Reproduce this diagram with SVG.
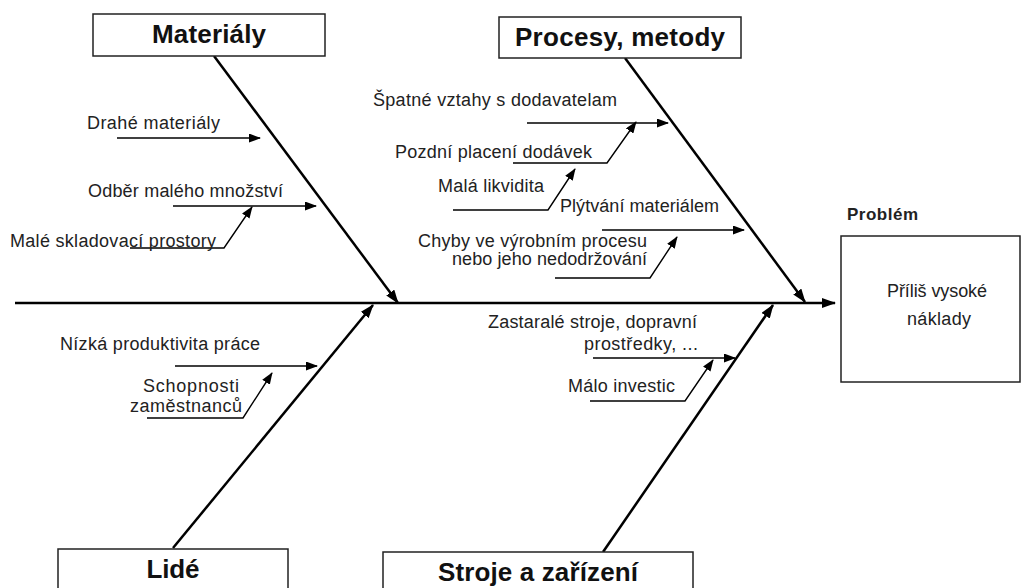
<svg xmlns="http://www.w3.org/2000/svg" width="1026" height="588" viewBox="0 0 1026 588">
<defs>
<marker id="ah" markerUnits="userSpaceOnUse" markerWidth="14" markerHeight="10" refX="13" refY="5" orient="auto"><path d="M0,0 L14,5 L0,10 Z" fill="#000"/></marker>
<marker id="as" markerUnits="userSpaceOnUse" markerWidth="12" markerHeight="9" refX="11" refY="4.5" orient="auto"><path d="M0,0 L12,4.5 L0,9 Z" fill="#000"/></marker>
<style>
.box{fill:#fff;stroke:#222;stroke-width:1.5}
.title{font-family:"Liberation Sans",Arial,sans-serif;font-weight:bold;font-size:26px;fill:#111;text-anchor:middle}
.lbl{font-family:"Liberation Sans",Arial,sans-serif;font-size:18px;fill:#222}
.main{stroke:#000;stroke-width:2.5;fill:none}
.sub{stroke:#000;stroke-width:1.4;fill:none}
</style>
</defs>
<rect width="1026" height="588" fill="#fff"/>
<g id="connectors">
<line class="main" x1="15" y1="303" x2="835" y2="303" marker-end="url(#ah)"/>
<line class="main" x1="214" y1="56" x2="398" y2="303" marker-end="url(#ah)"/>
<line class="main" x1="173" y1="548" x2="373" y2="305" marker-end="url(#ah)"/>
<line class="main" x1="625" y1="58" x2="805" y2="302" marker-end="url(#ah)"/>
<line class="main" x1="603" y1="552" x2="773" y2="305" marker-end="url(#ah)"/>
<line class="sub" x1="117" y1="138" x2="260" y2="138" marker-end="url(#as)"/>
<line class="sub" x1="173" y1="206" x2="316" y2="206" marker-end="url(#as)"/>
<polyline class="sub" points="130,248 224,248 252,207" marker-end="url(#as)"/>
<line class="sub" x1="527" y1="123" x2="668" y2="123" marker-end="url(#as)"/>
<polyline class="sub" points="513,163 607,163 636,122" marker-end="url(#as)"/>
<polyline class="sub" points="453,210 548,210 575,169" marker-end="url(#as)"/>
<line class="sub" x1="602" y1="230" x2="744" y2="230" marker-end="url(#as)"/>
<polyline class="sub" points="555,278 650,278 677,237" marker-end="url(#as)"/>
<line class="sub" x1="175" y1="366" x2="317" y2="366" marker-end="url(#as)"/>
<polyline class="sub" points="147,418 243,418 272,373" marker-end="url(#as)"/>
<line class="sub" x1="593" y1="358" x2="735" y2="358" marker-end="url(#as)"/>
<polyline class="sub" points="590,401 685,401 713,360" marker-end="url(#as)"/>
</g>
<g id="materialy">
<rect class="box" x="93" y="14" width="232" height="42"/>
<text class="title" x="209" y="43" textLength="114">Materiály</text>
</g>
<g id="procesy">
<rect class="box" x="499" y="17" width="242" height="41"/>
<text class="title" x="620" y="46" textLength="210">Procesy, metody</text>
</g>
<g id="lide">
<rect class="box" x="58" y="549" width="230" height="45"/>
<text class="title" x="173" y="578" textLength="53">Lidé</text>
</g>
<g id="stroje">
<rect class="box" x="383" y="552" width="310" height="42"/>
<text class="title" x="538" y="581" textLength="200">Stroje a zařízení</text>
</g>
<g id="problem">
<text x="847" y="220" font-family="Liberation Sans,Arial,sans-serif" font-weight="bold" font-size="17" fill="#222" textLength="71">Problém</text>
<rect class="box" x="841" y="236" width="179" height="146"/>
<text class="lbl" x="887" y="297" textLength="100">Příliš vysoké</text>
<text class="lbl" x="907" y="325" textLength="64">náklady</text>
</g>
<g id="causes-materialy">
<text class="lbl" x="87" y="129" textLength="133">Drahé materiály</text>
<text class="lbl" x="88" y="197" textLength="195">Odběr malého množství</text>
<text class="lbl" x="10" y="247" textLength="206">Malé skladovací prostory</text>
</g>
<g id="causes-procesy">
<text class="lbl" x="373" y="106" textLength="244">Špatné vztahy s dodavatelam</text>
<text class="lbl" x="395" y="158" textLength="197">Pozdní placení dodávek</text>
<text class="lbl" x="438" y="192" textLength="106">Malá likvidita</text>
<text class="lbl" x="560" y="212" textLength="159">Plýtvání materiálem</text>
<text class="lbl" x="418" y="247" textLength="229">Chyby ve výrobním procesu</text>
<text class="lbl" x="452" y="265" textLength="195">nebo jeho nedodržování</text>
</g>
<g id="causes-lide">
<text class="lbl" x="60" y="350" textLength="200">Nízká produktivita práce</text>
<text class="lbl" x="143" y="392" textLength="96">Schopnosti</text>
<text class="lbl" x="130" y="412" textLength="112">zaměstnanců</text>
</g>
<g id="causes-stroje">
<text class="lbl" x="488" y="328" textLength="209">Zastaralé stroje, dopravní</text>
<text class="lbl" x="584" y="350" textLength="114">prostředky, ...</text>
<text class="lbl" x="568" y="392" textLength="107">Málo investic</text>
</g>
</svg>
